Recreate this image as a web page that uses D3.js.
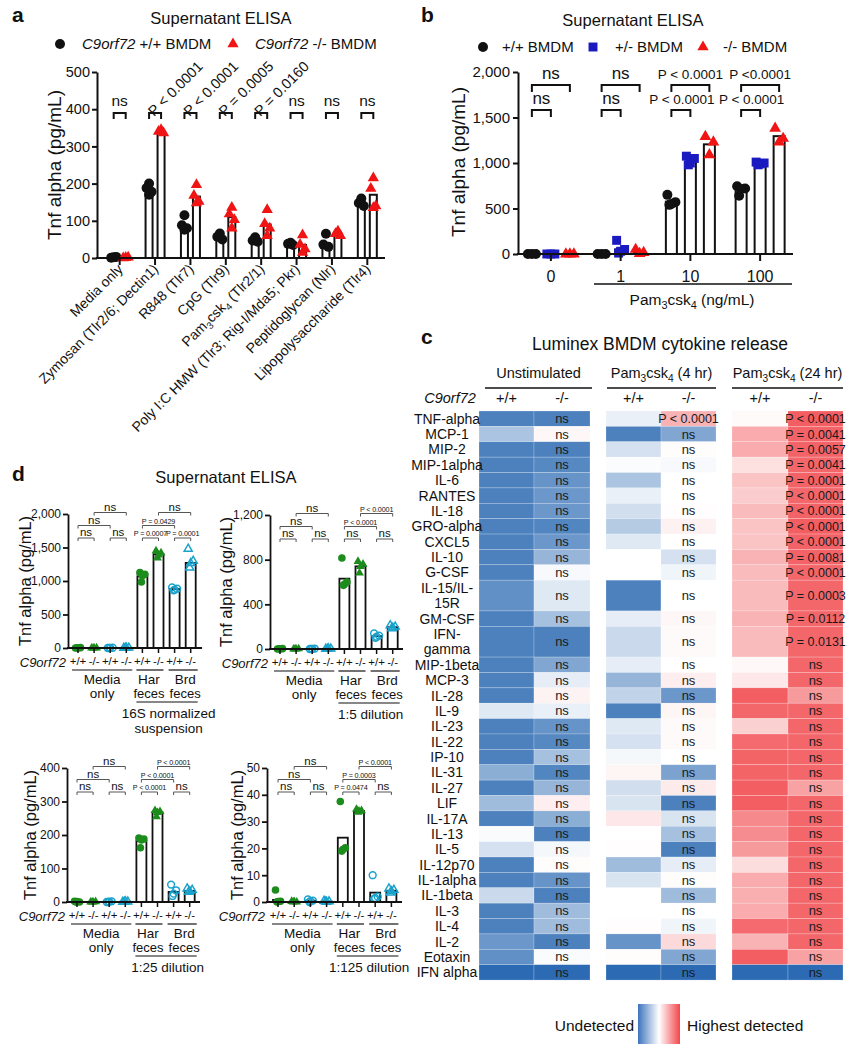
<!DOCTYPE html>
<html>
<head>
<meta charset="utf-8">
<script src="https://cdn.jsdelivr.net/npm/d3@7"></script>
<style>
  body { margin: 0; background: #fff; }
  svg { font-family: "Liberation Sans", Arial, Helvetica, sans-serif; }
</style>
</head>
<body>
<svg id="fig" width="849" height="1050"></svg>
<script>
// ---------- panel a data ----------
var aGroups = ["Media only", "Zymosan (Tlr2/6; Dectin1)", "R848 (Tlr7)", "CpG (Tlr9)",
  "Pam_3csk_4 (Tlr2/1)", "Poly I:C HMW (Tlr3; Rig-I/Mda5; Pkr)", "Peptidoglycan (Nlr)", "Lipopolysaccharide (Tlr4)"];
var aWtMean = [2, 180, 85, 58, 48, 38, 40, 150];
var aKoMean = [1, 340, 165, 110, 90, 35, 65, 170];
var aWtPts = [[2, 1, 3], [200, 188, 178, 170], [115, 88, 80, 76], [66, 57, 50], [56, 47, 44], [41, 38, 35], [65, 36, 30], [160, 148, 140]];
var aKoPts = [[1, 0, 2], [345, 340, 336], [197, 168, 152, 148], [136, 118, 103, 80], [130, 92, 80, 60], [62, 36, 24, 15], [72, 65, 60], [215, 187, 140, 135]];
var aSig = ["ns", "P < 0.0001", "P < 0.0001", "P = 0.0005", "P = 0.0160", "ns", "ns", "ns"];
var aTicks = [0, 100, 200, 300, 400, 500];

// ---------- panel b data ----------
var bDoses = ["0", "1", "10", "100"];
var bWtMean = [0, 0, 575, 700];
var bHetMean = [0, 50, 1010, 1000];
var bKoMean = [0, 20, 1205, 1295];
var bWtPts = [[0, 0, 0], [0, 0, 0], [650, 570, 550, 540], [745, 720, 715, 640]];
var bHetPts = [[0, 0, 0], [150, 50, 30, 10], [1075, 1050, 1000, 980], [1010, 1000, 990, 980]];
var bKoPts = [[0, 0, 0], [50, 15, 5], [1290, 1230, 1090], [1380, 1270, 1230]];
var bSigHi = ["ns", "ns", "P < 0.0001", "P <0.0001"];
var bSigLo = ["ns", "ns", "P < 0.0001", "P < 0.0001"];
var bTicks = [0, 500, 1000, 1500, 2000];

// ---------- panel c data ----------
var cytokines = ["TNF-alpha", "MCP-1", "MIP-2", "MIP-1alpha", "IL-6", "RANTES", "IL-18", "GRO-alpha", "CXCL5",
  "IL-10", "G-CSF", "IL-15/IL-|15R", "GM-CSF", "IFN-|gamma", "MIP-1beta", "MCP-3", "IL-28", "IL-9", "IL-23",
  "IL-22", "IP-10", "IL-31", "IL-27", "LIF", "IL-17A", "IL-13", "IL-5", "IL-12p70", "IL-1alpha", "IL-1beta",
  "IL-3", "IL-4", "IL-2", "Eotaxin", "IFN alpha"];
// relative level: -1 undetected ... +1 highest detected
var unstimWt = [-0.85, -0.4, -0.85, -0.85, -0.85, -0.85, -0.85, -0.85, -0.85, -0.85, -0.85, -0.75, -0.85, -0.85, -0.85, -0.85,
  -0.85, -0.15, -0.85, -0.85, -0.85, -0.55, -0.85, -0.45, -0.85, -0.03, -0.2, -0.85, -0.85, -0.25, -0.85, -0.85, -0.7, -0.75, -1];
var unstimKo = [-0.85, 0.05, -0.85, -0.8, -0.72, -0.7, -0.7, -0.82, -0.7, -0.5, -0.04, -0.15, -0.42, -0.85, -0.6, -0.12,
  0.07, -0.1, -0.72, -0.8, -0.42, -0.82, -0.5, 0.1, -0.55, -0.85, -0.05, 0.02, -0.72, -0.85, -0.45, -0.45, -0.85, -0.03, -1];
var h4Wt = [-0.1, -0.85, -0.2, -0.02, -0.4, -0.1, -0.22, -0.35, -0.15, 0.0, 0.0, -0.85, -0.12, -0.25, -0.12, -0.5,
  -0.3, -0.85, -0.15, -0.2, -0.05, 0.06, -0.22, -0.18, 0.14, 0.0, 0.01, -0.45, -0.18, 0.0, 0.0, 0.01, -0.72, 0.02, -1];
var h4Ko = [0.45, -0.6, 0.02, -0.04, 0.0, 0.0, 0.01, 0.08, 0.0, -0.2, -0.07, 0.0, 0.05, 0.03, 0.0, 0.1,
  -0.7, 0.06, 0.03, 0.03, 0.0, -0.62, 0.12, -0.85, -0.18, -0.42, -0.85, -0.12, 0.02, -0.45, 0.0, -0.07, 0.22, -0.6, -1];
var h24Wt = [0.03, 0.5, 0.5, 0.18, 0.35, 0.3, 0.4, 0.35, 0.35, 0.45, 0.4, 0.4, 0.45, 0.4, 0.04, 0.14,
  0.95, 0.9, 0.28, 0.88, 0.92, 0.92, 0.95, 0.95, 0.7, 0.68, 0.6, 0.2, 0.5, 0.48, 0.5, 0.88, 0.45, 0.95, -1];
var h24Ko = [0.95, 0.93, 0.93, 0.9, 0.93, 0.9, 0.93, 0.95, 0.93, 0.93, 0.9, 0.9, 0.9, 0.9, 0.9, 0.9,
  0.6, 0.9, 0.9, 0.9, 0.9, 0.9, 0.55, 0.9, 0.9, 0.9, 0.9, 0.9, 0.9, 0.9, 0.9, 0.9, 0.9, 0.55, -1];
var h4KoP = ["P < 0.0001"];
var h24KoP = ["P < 0.0001", "P = 0.0041", "P = 0.0057", "P = 0.0041", "P = 0.0001", "P < 0.0001", "P < 0.0001",
  "P < 0.0001", "P < 0.0001", "P = 0.0081", "P < 0.0001", "P = 0.0003", "P = 0.0112", "P = 0.0131"];

// ---------- panel d data ----------
var dGenotypes = ["+/+", "-/-", "+/+", "-/-", "+/+", "-/-", "+/+", "-/-"];
var d1Mean = [2, 1, 2, 2, 1070, 1400, 880, 1270];
var d1Pts = [[0, 5, 0, 3], [0, 2, 0, 0], [0, 4, 2, 0], [0, 3, 5, 0], [1125, 1100, 1080, 985], [1450, 1420, 1390, 1345], [905, 885, 870, 860], [1480, 1300, 1265, 1200]];
var d1Sig = [[0, 1, 0, "ns"], [2, 3, 0, "ns"], [0, 2, 1, "ns"], [1, 3, 2, "ns"], [4, 5, 0, "P = 0.0007"], [6, 7, 0, "P = 0.0001"], [4, 6, 1, "P = 0.0429"], [5, 7, 2, "ns"]];
var d2Mean = [2, 1, 2, 2, 630, 740, 115, 195];
var d2Pts = [[0, 3, 0, 2], [0, 2, 0, 0], [0, 4, 2, 0], [0, 3, 5, 0], [815, 600, 580, 570], [785, 760, 740, 680], [140, 120, 110, 100], [212, 200, 190, 185]];
var d2Sig = [[0, 1, 0, "ns"], [2, 3, 0, "ns"], [4, 5, 0, "ns"], [6, 7, 0, "ns"], [0, 2, 1, "ns"], [1, 3, 2, "ns"], [4, 6, 1, "P < 0.0001"], [5, 7, 2, "P < 0.0001"]];
var d3Mean = [1, 0.5, 1, 1, 182, 268, 30, 33];
var d3Pts = [[2, 0, 1, 0], [0, 1, 0, 0], [0, 2, 1, 0], [0, 1, 2, 0], [191, 188, 185, 162], [273, 270, 267, 255], [52, 35, 25, 18], [40, 36, 32, 30]];
var d3Sig = [[0, 1, 0, "ns"], [2, 3, 0, "ns"], [0, 2, 1, "ns"], [1, 3, 2, "ns"], [4, 5, 0, "P < 0.0001"], [4, 6, 1, "P < 0.0001"], [5, 7, 2, "P < 0.0001"], [6, 7, 0, "ns"]];
var d4Mean = [0.8, 0.1, 0.5, 0.2, 24, 34, 3.5, 4.2];
var d4Pts = [[4.5, 0.3, 0.2, 0], [0.2, 0, 0.1, 0], [1, 0.5, 0.3, 0], [0.4, 0.2, 0, 0.1], [37.5, 20.2, 19.6, 19], [34.6, 34.1, 33.9, 33.5], [10, 2, 1.5, 1.2], [5, 4.5, 4, 3.5]];
var d4Sig = [[0, 1, 0, "ns"], [2, 3, 0, "ns"], [0, 2, 1, "ns"], [1, 3, 2, "ns"], [4, 5, 0, "P = 0.0474"], [4, 6, 1, "P = 0.0003"], [5, 7, 2, "P < 0.0001"], [6, 7, 0, "ns"]];

// ---------- helpers ----------
var svg = d3.select("#fig");
var INK = "#111";
var RED = "#f01414", BLUE = "#1a1ac0", GREEN = "#1c8c1c", CYAN = "#1ba2cc";

function rich(t, s, size) {
  // "_3" -> subscript 3
  var parts = s.split(/(_\d)/).filter(function(p) { return p.length; });
  var shifted = false;
  parts.forEach(function(p) {
    if (p[0] === "_") {
      t.append("tspan").attr("font-size", size * 0.7).attr("dy", shifted ? 0 : size * 0.25).text(p.slice(1));
      shifted = true;
    } else {
      t.append("tspan").attr("dy", shifted ? -size * 0.25 : 0).text(p);
      shifted = false;
    }
  });
  return t;
}

function label(g, x, y, s, size, anchor, weight) {
  return g.append("text").attr("x", x).attr("y", y).attr("font-size", size)
    .attr("text-anchor", anchor || "middle").attr("font-weight", weight || null)
    .attr("fill", INK).text(s);
}

function styleAxis(ax, size, sw) {
  ax.selectAll("path, line").attr("stroke", INK).attr("stroke-width", sw);
  ax.selectAll("text").attr("font-size", size).attr("fill", INK).attr("font-family", null);
}

var jit = [0, -2.5, 2.5, 0, -1.5, 1.5];
var tri = function(sz) { return d3.symbol().type(d3.symbolTriangle).size(sz)(); };
var sq = function(sz) { return d3.symbol().type(d3.symbolSquare).size(sz)(); };

// ========== PANEL a ==========
(function() {
  var g = svg.append("g");
  label(g, 12, 22, "a", 21, "start", "bold");
  label(g, 221, 24, "Supernatant ELISA", 16.5);
  g.append("circle").attr("cx", 60).attr("cy", 44).attr("r", 5).attr("fill", INK);
  var t1 = g.append("text").attr("x", 82).attr("y", 49).attr("font-size", 15).attr("fill", INK);
  t1.append("tspan").attr("font-style", "italic").text("C9orf72");
  t1.append("tspan").text(" +/+ BMDM");
  g.append("path").attr("d", tri(55)).attr("transform", "translate(233,44)").attr("fill", RED);
  var t2 = g.append("text").attr("x", 255).attr("y", 49).attr("font-size", 15).attr("fill", INK);
  t2.append("tspan").attr("font-style", "italic").text("C9orf72");
  t2.append("tspan").text(" -/- BMDM");

  var x = d3.scaleBand().domain(aGroups).range([102, 385]);
  var y = d3.scaleLinear().domain([0, 500]).range([258, 72]);
  var cx = function(i) { return x(aGroups[i]) + x.bandwidth() / 2; };

  // bars
  [[aWtMean, -6], [aKoMean, 6]].forEach(function(s) {
    g.selectAll(null).data(s[0]).enter().append("rect")
      .attr("x", function(d, i) { return cx(i) + s[1] - 3.5; })
      .attr("y", function(d) { return y(d); })
      .attr("width", 7).attr("height", function(d) { return 258 - y(d); })
      .attr("fill", "#fff").attr("stroke", INK).attr("stroke-width", 2);
  });
  // points
  aWtPts.forEach(function(arr, i) {
    arr.forEach(function(v, k) {
      g.append("circle").attr("cx", cx(i) - 6 + jit[k]).attr("cy", y(v)).attr("r", 5).attr("fill", INK);
    });
  });
  aKoPts.forEach(function(arr, i) {
    arr.forEach(function(v, k) {
      g.append("path").attr("d", tri(55)).attr("transform", "translate(" + (cx(i) + 6 + jit[k]) + "," + y(v) + ")").attr("fill", RED);
    });
  });

  var ya = g.append("g").attr("transform", "translate(97,0)")
    .call(d3.axisLeft(y).tickValues(aTicks).tickSize(5).tickPadding(2).tickSizeOuter(0));
  styleAxis(ya, 14.5, 2);
  var xa = g.append("g").attr("transform", "translate(0,258)")
    .call(d3.axisBottom(x).tickSize(7).tickSizeOuter(0).tickFormat(""));
  styleAxis(xa, 14, 2);
  xa.select(".domain").remove();
  g.append("line").attr("x1", 96).attr("x2", 385).attr("y1", 258).attr("y2", 258).attr("stroke", INK).attr("stroke-width", 2);

  aGroups.forEach(function(s, i) {
    var t = g.append("text").attr("font-size", 14).attr("fill", INK).attr("text-anchor", "end")
      .attr("transform", "translate(" + (cx(i) + 4) + ",270) rotate(-45)");
    rich(t, s, 14);
  });

  g.append("text").attr("font-size", 19).attr("fill", INK).attr("text-anchor", "middle")
    .attr("transform", "translate(61,165) rotate(-90)").text("Tnf alpha (pg/mL)");

  // significance
  aSig.forEach(function(s, i) {
    var x1 = cx(i) - 6, x2 = cx(i) + 6;
    g.append("path").attr("d", "M" + x1 + ",119V113H" + x2 + "V119").attr("fill", "none").attr("stroke", INK).attr("stroke-width", 2);
    if (s === "ns") {
      label(g, cx(i), 106, s, 15.5);
    } else {
      g.append("text").attr("font-size", 14.5).attr("fill", INK)
        .attr("transform", "translate(" + (cx(i) - 1) + ",117) rotate(-45)").text(s);
    }
  });
})();

// ========== PANEL b ==========
(function() {
  var g = svg.append("g");
  label(g, 421, 22, "b", 21, "start", "bold");
  label(g, 633, 26, "Supernatant ELISA", 16.5);
  g.append("circle").attr("cx", 483).attr("cy", 47).attr("r", 5).attr("fill", INK);
  label(g, 502, 52, "+/+ BMDM", 15, "start");
  g.append("path").attr("d", sq(80)).attr("transform", "translate(593,47)").attr("fill", BLUE);
  label(g, 615, 52, "+/- BMDM", 15, "start");
  g.append("path").attr("d", tri(55)).attr("transform", "translate(703,47)").attr("fill", RED);
  label(g, 723, 52, "-/- BMDM", 15, "start");

  var x = d3.scaleBand().domain(bDoses).range([516, 795]);
  var y = d3.scaleLinear().domain([0, 2000]).range([254, 72]);
  var cx = function(i) { return x(bDoses[i]) + x.bandwidth() / 2; };
  var series = [[bWtMean, bWtPts, -19, "c"], [bHetMean, bHetPts, 0, "s"], [bKoMean, bKoPts, 19, "t"]];
  var bj = [-4, 4, 0, -2, 2];

  series.forEach(function(s) {
    g.selectAll(null).data(s[0]).enter().append("rect")
      .attr("x", function(d, i) { return cx(i) + s[2] - 5.5; })
      .attr("y", function(d) { return y(d); })
      .attr("width", 11).attr("height", function(d) { return 254 - y(d); })
      .attr("fill", "#fff").attr("stroke", INK).attr("stroke-width", 2);
  });
  series.forEach(function(s) {
    s[1].forEach(function(arr, i) {
      arr.forEach(function(v, k) {
        var px = cx(i) + s[2] + bj[k], py = y(v);
        if (s[3] === "c") g.append("circle").attr("cx", px).attr("cy", py).attr("r", 5).attr("fill", INK);
        else if (s[3] === "s") g.append("path").attr("d", sq(80)).attr("transform", "translate(" + px + "," + py + ")").attr("fill", BLUE);
        else g.append("path").attr("d", tri(60)).attr("transform", "translate(" + px + "," + py + ")").attr("fill", RED);
      });
    });
  });

  var ya = g.append("g").attr("transform", "translate(518,0)")
    .call(d3.axisLeft(y).tickValues(bTicks).tickSize(5).tickPadding(3).tickSizeOuter(0).tickFormat(d3.format(",")));
  styleAxis(ya, 15, 2);
  var xa = g.append("g").attr("transform", "translate(0,254)")
    .call(d3.axisBottom(x).tickSize(7).tickSizeOuter(0));
  styleAxis(xa, 16, 2);
  xa.select(".domain").remove();
  xa.selectAll("text").attr("dy", "1.1em");
  g.append("line").attr("x1", 517).attr("x2", 793).attr("y1", 254).attr("y2", 254).attr("stroke", INK).attr("stroke-width", 2);
  g.append("line").attr("x1", 594).attr("x2", 792).attr("y1", 284).attr("y2", 284).attr("stroke", INK).attr("stroke-width", 1.5);
  rich(g.append("text").attr("x", 692).attr("y", 305).attr("font-size", 15.5).attr("text-anchor", "middle").attr("fill", INK),
    "Pam_3csk_4 (ng/mL)", 15.5);

  g.append("text").attr("font-size", 19).attr("fill", INK).attr("text-anchor", "middle")
    .attr("transform", "translate(465,162) rotate(-90)").text("Tnf alpha (pg/mL)");

  bDoses.forEach(function(dd, i) {
    var a = cx(i) - 19, m = cx(i), c = cx(i) + 19;
    g.append("path").attr("d", "M" + a + ",92V85H" + c + "V92").attr("fill", "none").attr("stroke", INK).attr("stroke-width", 2);
    g.append("path").attr("d", "M" + a + ",117V110H" + m + "V117").attr("fill", "none").attr("stroke", INK).attr("stroke-width", 2);
    if (bSigHi[i] === "ns") label(g, m, 79, "ns", 17);
    else label(g, m, 79, bSigHi[i], 13.5);
    if (bSigLo[i] === "ns") label(g, (a + m) / 2, 104, "ns", 17);
    else label(g, (a + m) / 2 + 1, 104, bSigLo[i], 13.5);
  });
})();

// ========== PANEL c ==========
(function() {
  var g = svg.append("g");
  label(g, 421, 344, "c", 21, "start", "bold");
  label(g, 660, 350, "Luminex BMDM cytokine release", 17.5);
  var heads = [["Unstimulated", 485, 592], ["Pam_3csk_4 (4 hr)", 607, 716], ["Pam_3csk_4 (24 hr)", 732, 843]];
  heads.forEach(function(h) {
    rich(g.append("text").attr("x", (h[1] + h[2]) / 2).attr("y", 378).attr("font-size", 14.5)
      .attr("text-anchor", "middle").attr("fill", INK), h[0], 14.5);
    g.append("line").attr("x1", h[1]).attr("x2", h[2]).attr("y1", 388).attr("y2", 388).attr("stroke", INK).attr("stroke-width", 1.6);
  });
  g.append("text").attr("x", 450).attr("y", 403).attr("font-size", 14.5).attr("font-style", "italic")
    .attr("text-anchor", "middle").attr("fill", INK).text("C9orf72");

  var cols = [[unstimWt, 479, 534, "+/+", null], [unstimKo, 534, 590, "-/-", []],
    [h4Wt, 606, 661, "+/+", null], [h4Ko, 661, 716, "-/-", h4KoP],
    [h24Wt, 732, 788, "+/+", null], [h24Ko, 788, 843, "-/-", h24KoP]];
  var color = d3.scaleLinear().domain([-1, 0, 1]).range(["#2c6bb3", "#ffffff", "#f2565a"]);

  // row layout (two-line labels take two units)
  var rowH = 15.38, top = 411;
  var rowsY = [], acc = 0;
  cytokines.forEach(function(c) {
    var span = c.indexOf("|") >= 0 ? 2 : 1;
    rowsY.push([top + acc * rowH, span * rowH]);
    acc += span;
  });

  cols.forEach(function(col) {
    label(g, (col[1] + col[2]) / 2, 403, col[3], 14.5);
    col[0].forEach(function(v, r) {
      g.append("rect").attr("x", col[1]).attr("y", rowsY[r][0]).attr("width", col[2] - col[1]).attr("height", rowsY[r][1])
        .attr("fill", color(v)).attr("stroke", "#fff").attr("stroke-opacity", 0.35).attr("stroke-width", 0.6);
      if (col[4]) {
        var s = col[4][r] || "ns";
        label(g, (col[1] + col[2]) / 2, rowsY[r][0] + rowsY[r][1] / 2 + 4.5, s, s === "ns" ? 13 : 12.5).attr("fill", "#1a1a1a");
      }
    });
  });

  cytokines.forEach(function(c, r) {
    var lines = c.split("|");
    var mid = rowsY[r][0] + rowsY[r][1] / 2;
    lines.forEach(function(ln, k) {
      label(g, 447, mid + 5 + (k - (lines.length - 1) / 2) * 15.5, ln, 14);
    });
  });

  // gradient legend
  var grad = svg.append("defs").append("linearGradient").attr("id", "hg");
  [[0, "#3d74bd"], [0.5, "#ffffff"], [1, "#f2464c"]].forEach(function(s) {
    grad.append("stop").attr("offset", s[0]).attr("stop-color", s[1]);
  });
  g.append("rect").attr("x", 638).attr("y", 1004).attr("width", 42).attr("height", 40).attr("fill", "url(#hg)");
  label(g, 634, 1031, "Undetected", 15.5, "end");
  label(g, 687, 1031, "Highest detected", 15.5, "start");
})();

// ========== PANEL d ==========
function drawD(cfg) {
  var g = svg.append("g");
  var y = d3.scaleLinear().domain([0, cfg.max]).range([cfg.y0, cfg.yTop]);
  var gx = function(i) { return cfg.first + i * cfg.step; };
  var sty = [["c", GREEN, true], ["t", GREEN, true], ["c", CYAN, false], ["t", CYAN, false],
    ["c", GREEN, true], ["t", GREEN, true], ["c", CYAN, false], ["t", CYAN, false]];

  g.selectAll(null).data(cfg.mean).enter().append("rect")
    .attr("x", function(d, i) { return gx(i) - 5; })
    .attr("y", function(d) { return y(d); })
    .attr("width", 10).attr("height", function(d) { return cfg.y0 - y(d); })
    .attr("fill", "#fff").attr("stroke", INK).attr("stroke-width", 1.8);

  cfg.pts.forEach(function(arr, i) {
    arr.forEach(function(v, k) {
      var px = gx(i) + [-2.5, 2.5, 0, -1][k], py = y(v);
      var s = sty[i];
      var el = s[0] === "c"
        ? g.append("circle").attr("cx", px).attr("cy", py).attr("r", s[2] ? 3.8 : 3.4)
        : g.append("path").attr("d", tri(s[2] ? 34 : 28)).attr("transform", "translate(" + px + "," + py + ")");
      if (s[2]) el.attr("fill", s[1]);
      else el.attr("fill", "none").attr("stroke", s[1]).attr("stroke-width", 1.5);
    });
  });

  var ya = g.append("g").attr("transform", "translate(" + cfg.axisX + ",0)")
    .call(d3.axisLeft(y).tickValues(cfg.ticks).tickSize(5).tickPadding(2).tickSizeOuter(0).tickFormat(d3.format(",")));
  styleAxis(ya, 12, 1.8);
  g.append("line").attr("x1", cfg.axisX - 1).attr("x2", cfg.axisEnd).attr("y1", cfg.y0).attr("y2", cfg.y0)
    .attr("stroke", INK).attr("stroke-width", 1.8);
  dGenotypes.forEach(function(s, i) {
    g.append("line").attr("x1", gx(i)).attr("x2", gx(i)).attr("y1", cfg.y0).attr("y2", cfg.y0 + 5).attr("stroke", INK).attr("stroke-width", 1.5);
    label(g, gx(i), cfg.y0 + 17, s, 11.5);
  });
  g.append("text").attr("x", cfg.axisX - 2).attr("y", cfg.y0 + 18.5).attr("font-size", 13).attr("font-style", "italic")
    .attr("text-anchor", "end").attr("fill", INK).text("C9orf72");

  var seg = function(a, b, yy) {
    g.append("line").attr("x1", a).attr("x2", b).attr("y1", yy).attr("y2", yy).attr("stroke", INK).attr("stroke-width", 1.2);
  };
  seg(gx(0) - 6, gx(3) + 6, cfg.y0 + 22);
  seg(gx(4) - 6, gx(5) + 5, cfg.y0 + 22);
  seg(gx(6) - 6, gx(7) + 7, cfg.y0 + 22);
  label(g, (gx(0) + gx(3)) / 2, cfg.y0 + 35.5, "Media", 13.5);
  label(g, (gx(0) + gx(3)) / 2, cfg.y0 + 50, "only", 13.5);
  label(g, (gx(4) + gx(5)) / 2 - 1.5, cfg.y0 + 35.5, "Har", 13.5);
  label(g, (gx(4) + gx(5)) / 2 - 1.5, cfg.y0 + 50, "feces", 13);
  label(g, (gx(6) + gx(7)) / 2 + 2.5, cfg.y0 + 35.5, "Brd", 13.5);
  label(g, (gx(6) + gx(7)) / 2 + 2.5, cfg.y0 + 50, "feces", 13);
  seg(gx(4) - 6, gx(7) + 7, cfg.y0 + 54);
  cfg.caption.forEach(function(c, k) {
    label(g, (gx(4) + gx(7)) / 2 + 2, cfg.y0 + 70 + k * 15, c, 13.5);
  });

  g.append("text").attr("font-size", 16.5).attr("fill", INK).attr("text-anchor", "middle")
    .attr("transform", "translate(" + cfg.labX + "," + ((cfg.y0 + cfg.yTop) / 2) + ") rotate(-90)").text("Tnf alpha (pg/mL)");

  var lvl = [cfg.yTop + 24, cfg.yTop + 11.5, cfg.yTop - 1.5];
  cfg.sig.forEach(function(s) {
    var a = gx(s[0]), b = gx(s[1]), yy = lvl[s[2]];
    g.append("path").attr("d", "M" + a + "," + (yy + 3) + "V" + yy + "H" + b + "V" + (yy + 3))
      .attr("fill", "none").attr("stroke", "#555").attr("stroke-width", 1);
    if (s[3] === "ns") label(g, (a + b) / 2, yy - 2, "ns", 11.5);
    else label(g, (a + b) / 2, yy - 2, s[3], 7.2).attr("letter-spacing", -0.15);
  });
}

label(svg, 12, 481, "d", 21, "start", "bold");
label(svg, 226, 483, "Supernatant ELISA", 16.5);
drawD({ axisX: 68, axisEnd: 202, y0: 648, yTop: 514, max: 2000, ticks: [0, 500, 1000, 1500, 2000], first: 78, step: 16.1,
  mean: d1Mean, pts: d1Pts, sig: d1Sig, caption: ["16S normalized", "suspension"], labX: 31 });
drawD({ axisX: 270, axisEnd: 403, y0: 649, yTop: 515, max: 1200, ticks: [0, 400, 800, 1200], first: 280, step: 16.1,
  mean: d2Mean, pts: d2Pts, sig: d2Sig, caption: ["1:5 dilution"], labX: 232 });
drawD({ axisX: 67, axisEnd: 200, y0: 902, yTop: 768, max: 400, ticks: [0, 100, 200, 300, 400], first: 77, step: 16.1,
  mean: d3Mean, pts: d3Pts, sig: d3Sig, caption: ["1:25 dilution"], labX: 36 });
drawD({ axisX: 267, axisEnd: 402, y0: 902, yTop: 768, max: 50, ticks: [0, 10, 20, 30, 40, 50], first: 278, step: 16.2,
  mean: d4Mean, pts: d4Pts, sig: d4Sig, caption: ["1:125 dilution"], labX: 243 });
</script>
</body>
</html>
